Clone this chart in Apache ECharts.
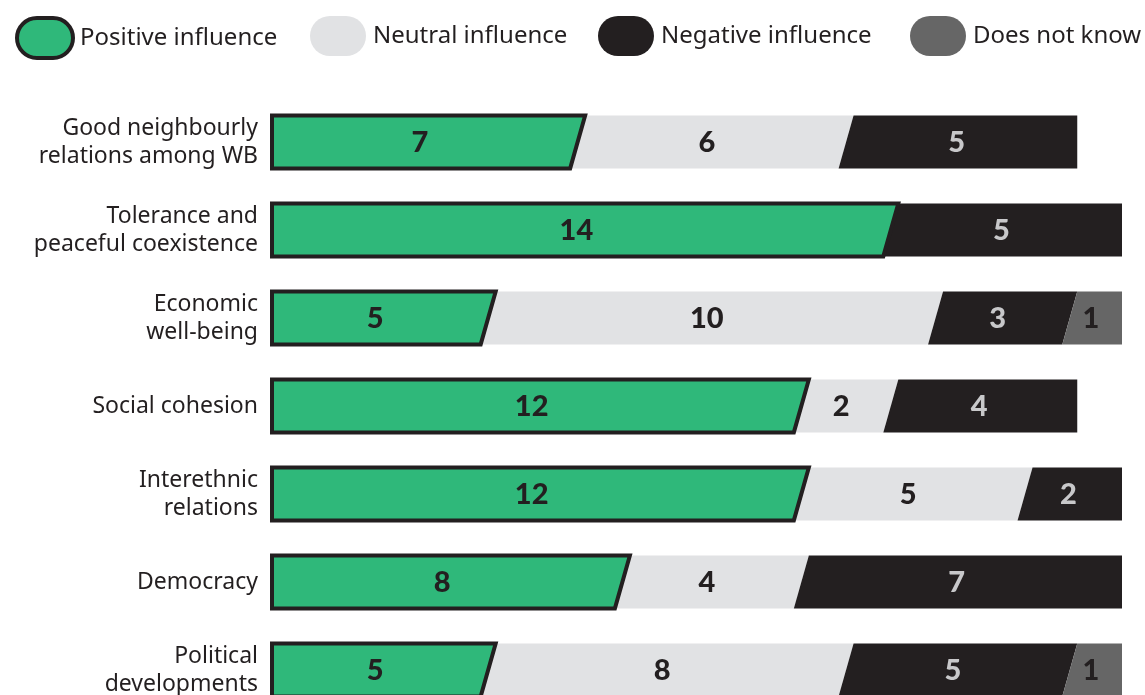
<!DOCTYPE html>
<html>
<head>
<meta charset="utf-8">
<script src="https://cdn.jsdelivr.net/npm/echarts@6/dist/echarts.min.js"></script>
<style>
  html, body { margin: 0; padding: 0; background: #fff; }
  #chart { width: 1145px; height: 695px; }
</style>
</head>
<body>
<div id="chart"></div>
<script>
var categories = [
  'Good neighbourly\nrelations among WB',
  'Tolerance and\npeaceful coexistence',
  'Economic\nwell-being',
  'Social cohesion',
  'Interethnic\nrelations',
  'Democracy',
  'Political\ndevelopments'
]
var seriesNames = ['Positive influence', 'Neutral influence', 'Negative influence', 'Does not know']
var positive = [7, 14, 5, 12, 12, 8, 5]
var neutral = [6, 0, 10, 2, 5, 4, 8]
var negative = [5, 5, 3, 4, 2, 7, 5]
var dontKnow = [0, 0, 1, 0, 0, 0, 1]

var values = [positive, neutral, negative, dontKnow]
var colors = ['#2fb87a', '#e1e2e4', '#231f20', '#666666']
var labelColors = ['#231f20', '#231f20', '#c8c8ca', '#231f20']
var dark = '#231f20'
var font = 'Noto Sans'
var SLANT = 15

// build stacked segments: [start, row, end, value, isLast]
function buildData(si) {
  return categories.map(function (c, row) {
    var start = 0
    for (var k = 0; k < si; k++) start += values[k][row]
    var v = values[si][row]
    var after = 0
    for (var j = si + 1; j < values.length; j++) after += values[j][row]
    return [start, row, start + v, v, after === 0 ? 1 : 0]
  })
}

function makeRender(si) {
  return function (params, api) {
    var start = api.value(0)
    var row = api.value(1)
    var end = api.value(2)
    var v = api.value(3)
    var isLast = api.value(4)
    if (!v) return
    var p0 = api.coord([start, row])
    var p1 = api.coord([end, row])
    var h = api.size([0, 1])[1] * 0.6
    var top = p0[1] - h / 2
    var bot = p0[1] + h / 2
    var lb = start > 0 ? SLANT : 0
    var rb = isLast ? 0 : SLANT
    var pts = [
      [p0[0], top],
      [p1[0], top],
      [p1[0] - rb, bot],
      [p0[0] - lb, bot]
    ]
    var cx = ((p0[0] - lb / 2) + (p1[0] - rb / 2)) / 2 - 5
    var children = [{
      type: 'polygon',
      shape: { points: pts },
      style: si === 0
        ? { fill: colors[si], stroke: dark, lineWidth: 4, lineJoin: 'miter' }
        : { fill: colors[si] }
    }, {
      type: 'text',
      x: cx,
      y: p0[1] + 1,
      style: {
        text: String(v),
        fill: labelColors[si],
        font: '900 29px Lato',
        align: 'center',
        verticalAlign: 'middle'
      }
    }]
    return { type: 'group', children: children }
  }
}

var chart = echarts.init(document.getElementById('chart'))

var legendLeft = [10, 305, 593, 905]
var legends = seriesNames.map(function (name, i) {
  var item = {
    name: name,
    icon: 'path://M20,0H36A20,20,0,0,1,36,40H20A20,20,0,0,1,20,0Z'
  }
  if (i === 0) item.itemStyle = { borderColor: dark, borderWidth: 4 }
  return {
    data: [item],
    left: legendLeft[i],
    top: 11,
    itemWidth: 56,
    itemHeight: 40,
    selectedMode: false,
    textStyle: { fontFamily: font, fontSize: 24, color: dark, padding: [6, 0, 0, 2] }
  }
})

chart.setOption({
  backgroundColor: '#fff',
  animation: false,
  legend: legends,
  grid: { left: 272, width: 850, top: 98, height: 616, outerBoundsMode: 'none', containLabel: false },
  xAxis: { type: 'value', min: 0, max: 19, show: false },
  yAxis: {
    type: 'category',
    data: categories,
    inverse: true,
    axisLine: { show: false },
    axisTick: { show: false },
    axisLabel: {
      margin: 14,
      fontFamily: font,
      fontSize: 23,
      lineHeight: 28,
      color: dark,
      align: 'right'
    }
  },
  series: seriesNames.map(function (name, i) {
    return {
      name: name,
      type: 'custom',
      z: i === 0 ? 5 : 2,
      itemStyle: { color: colors[i] },
      encode: { x: [0, 2], y: 1 },
      renderItem: makeRender(i),
      data: buildData(i)
    }
  })
})
</script>
</body>
</html>
